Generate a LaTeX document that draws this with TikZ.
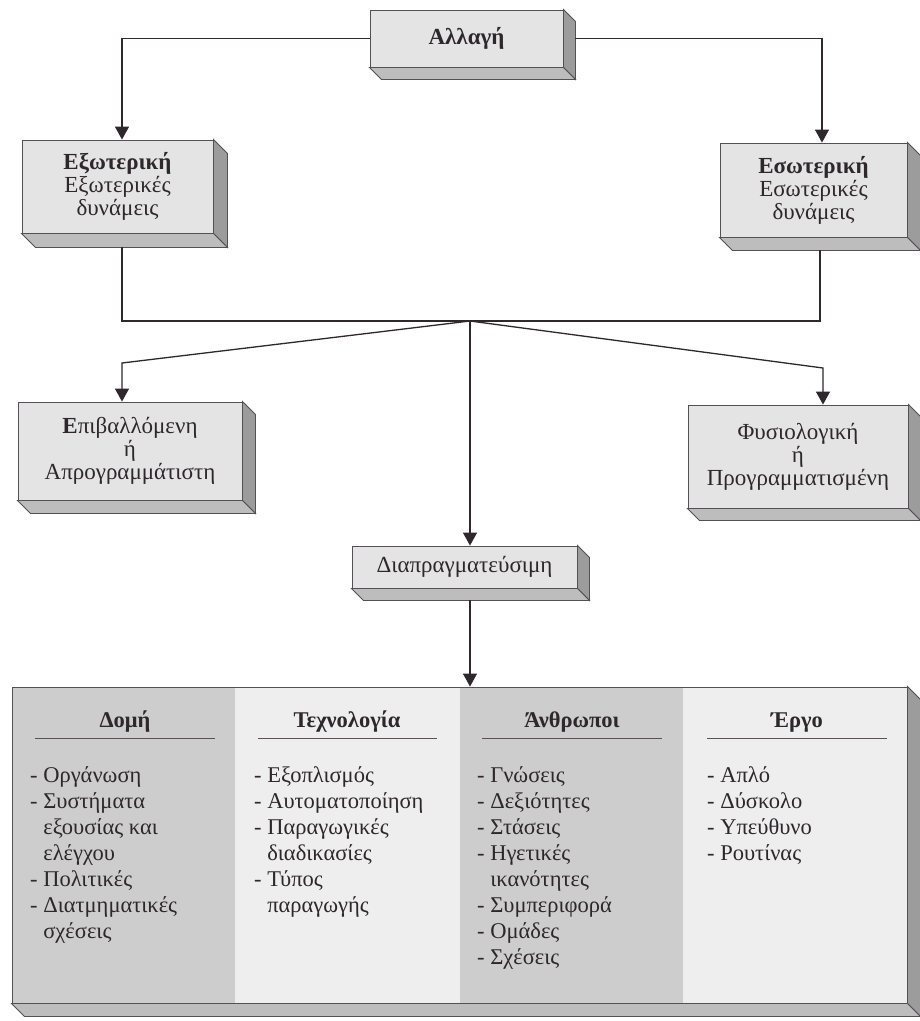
\documentclass[tikz,border=0pt]{standalone}
\usepackage{fontspec}
\setmainfont{Liberation Serif}
\usetikzlibrary{arrows.meta,calc}
\definecolor{ink}{HTML}{2E272C}
\definecolor{edge}{HTML}{555055}
\definecolor{facefill}{HTML}{E4E4E4}
\definecolor{sidefill}{HTML}{9C9C9C}
\definecolor{botfill}{HTML}{BDBDBD}
\definecolor{darkcol}{HTML}{CDCDCD}
\definecolor{lightcol}{HTML}{EEEEEE}
\tikzset{
  slab/.style={draw=edge, line width=0.9pt, fill=facefill, text=ink, align=center,
    inner sep=0pt, font=\fontsize{23}{23}\selectfont},
  conn/.style={draw=ink, line width=1.3pt},
  arr/.style={conn, -{Triangle[width=14pt,length=13pt]}},
  head/.style={font=\fontsize{22.5}{24}\selectfont\bfseries, text=ink, anchor=base},
  rule/.style={draw=ink!80, line width=1pt},
  list/.style={font=\fontsize{22.5}{26}\selectfont, text=ink, align=left,
    anchor=north west, inner sep=0pt},
}
\newcommand\slabfaces[2]{%
  \filldraw[fill=sidefill, draw=edge, line width=0.9pt] (#1.north east) -- ++(#2,#2)
    -- ($(#1.south east)+(#2,#2)$) -- (#1.south east) -- cycle;
  \filldraw[fill=botfill, draw=edge, line width=0.9pt] (#1.south west) -- ++(#2,#2)
    -- ($(#1.south east)+(#2,#2)$) -- (#1.south east) -- cycle;
}
\begin{document}
\begin{tikzpicture}[x=1pt, y=-1pt]
\useasboundingbox (0,0) rectangle (920,1021);

% boxes
\node[slab, minimum width=193pt, minimum height=57pt] (top) at (466.5,38.5) {\bfseries Αλλαγή};
\slabfaces{top}{12}
\node[slab, minimum width=191pt, minimum height=93pt] (ext) at (117.5,186.5)
  {\textbf{Εξωτερική}\\Εξωτερικές\\δυνάμεις};
\slabfaces{ext}{14}
\node[slab, minimum width=187pt, minimum height=94pt] (int) at (813.5,190)
  {\textbf{Εσωτερική}\\Εσωτερικές\\δυνάμεις};
\slabfaces{int}{13}
\node[slab, minimum width=224pt, minimum height=98pt] (imp) at (130,451)
  {\textbf{Ε}πιβαλλόμενη\\ή\\Απρογραμμάτιστη};
\slabfaces{imp}{13}
\node[slab, minimum width=220pt, minimum height=103pt] (nat) at (798,456.5)
  {Φυσιολογική\\ή\\Προγραμματισμένη};
\slabfaces{nat}{12}
\node[slab, minimum width=225pt, minimum height=42pt] (neg) at (464.5,567)
  {Διαπραγματεύσιμη};
\slabfaces{neg}{12}

% big table box
\fill[darkcol] (12,687) rectangle (235,1003);
\fill[lightcol] (235,687) rectangle (460,1003);
\fill[darkcol] (460,687) rectangle (683,1003);
\fill[lightcol] (683,687) rectangle (907,1003);
\node[draw=edge, line width=0.9pt, minimum width=895pt, minimum height=316pt, inner sep=0pt] (big) at (459.5,845) {};
\slabfaces{big}{13}

\node[head] (h1) at (125,727) {Δομή};
\node[head] (h2) at (347,727) {Τεχνολογία};
\node[head] (h3) at (572,727) {Άνθρωποι};
\node[head] (h4) at (797,727) {Έργο};
\draw[rule] (35,738) -- (215,738);
\draw[rule] (258,738) -- (437,738);
\draw[rule] (482,738) -- (662,738);
\draw[rule] (707,738) -- (887,738);

\node[list] (l1) at (30,766) {- Οργάνωση\\- Συστήματα\\\phantom{- }εξουσίας και\\\phantom{- }ελέγχου\\- Πολιτικές\\- Διατμηματικές\\\phantom{- }σχέσεις};
\node[list] (l2) at (254,766) {- Εξοπλισμός\\- Αυτοματοποίηση\\- Παραγωγικές\\\phantom{- }διαδικασίες\\- Τύπος\\\phantom{- }παραγωγής};
\node[list] (l3) at (477,766) {- Γνώσεις\\- Δεξιότητες\\- Στάσεις\\- Ηγετικές\\\phantom{- }ικανότητες\\- Συμπεριφορά\\- Ομάδες\\- Σχέσεις};
\node[list] (l4) at (707,766) {- Απλό\\- Δύσκολο\\- Υπεύθυνο\\- Ρουτίνας};

% connectors
\coordinate (j) at (470,321);
\coordinate (kL) at (122,363);
\coordinate (kR) at (823,368);
\draw[arr] (top.west) -| ([xshift=4.5pt]ext.north);
\draw[arr] ([xshift=12pt]top.east) -| ([xshift=8.5pt]int.north);
\draw[conn] ([xshift=4.5pt,yshift=-14pt]ext.south) |- (j) -| ([xshift=6.5pt,yshift=-13pt]int.south);
\draw[arr] (j) -- (kL) -- (kL |- imp.north);
\draw[arr] (j) -- (kR) -- (kR |- nat.north);
\draw[arr] (j) -- (j |- neg.north);
\draw[arr] ($(j |- neg.south)+(0,12)$) -- (j |- big.north);
\end{tikzpicture}
\end{document}
